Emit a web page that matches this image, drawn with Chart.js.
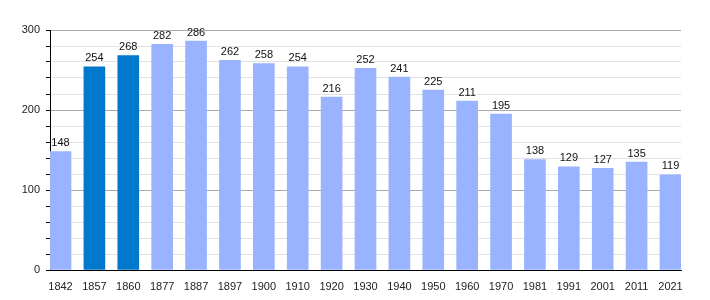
<!DOCTYPE html>
<html>
<head>
<meta charset="utf-8">
<script src="https://cdn.jsdelivr.net/npm/chart.js@4.4.1/dist/chart.umd.min.js"></script>
<style>
  html, body { margin: 0; padding: 0; background: #fff; }
  #wrap { width: 710px; height: 300px; }
</style>
</head>
<body>
<div id="wrap"><canvas id="chart"></canvas></div>
<script>
// census years and population
const years = ["1842", "1857", "1860", "1877", "1887", "1897", "1900", "1910", "1920", "1930",
  "1940", "1950", "1960", "1970", "1981", "1991", "2001", "2011", "2021"];
const population = [148, 254, 268, 282, 286, 262, 258, 254, 216, 252,
  241, 225, 211, 195, 138, 129, 127, 135, 119];
// years drawn in the darker colour
const highlighted = ["1857", "1860"];
const yTicks = [0, 100, 200, 300];
const yMinorStep = 20;

const lightBar = "#99b3ff";
const darkBar = "#0079cc";
const font = { family: "'Liberation Sans', Arial, sans-serif", size: 11 };

// draws the number above each bar
const valueLabels = {
  id: "valueLabels",
  afterDatasetsDraw: function (chart) {
    const ctx = chart.ctx;
    const meta = chart.getDatasetMeta(0);
    ctx.save();
    ctx.font = font.size + "px " + font.family;
    ctx.fillStyle = "#111";
    ctx.textAlign = "center";
    ctx.textBaseline = "bottom";
    meta.data.forEach(function (bar, i) {
      ctx.fillText(String(population[i]), bar.x, bar.y - 3);
    });
    ctx.restore();
  },
};

new Chart(document.getElementById("chart").getContext("2d"), {
  type: "bar",
  data: {
    datasets: [
      {
        data: population.map((v, i) => ({ x: i, y: v })),
        backgroundColor: years.map((y) => (highlighted.includes(y) ? darkBar : lightBar)),
        borderWidth: 0,
        barThickness: 21,
      },
    ],
  },
  options: {
    responsive: true,
    maintainAspectRatio: false,
    animation: false,
    layout: { padding: { top: 30, right: 29, left: 0, bottom: 0 } },
    plugins: {
      legend: { display: false },
      tooltip: { enabled: false },
    },
    scales: {
      x: {
        type: "linear",
        offset: false,
        // half a bar of room at both ends, so bars touch the plot edges
        min: -0.31,
        max: years.length - 1 + 0.31,
        grid: { display: false, offset: false },
        border: { display: true, color: "#000", width: 1 },
        afterBuildTicks: function (scale) {
          scale.ticks = years.map((_, i) => ({ value: i }));
        },
        afterFit: function (scale) {
          scale.height = 30;
        },
        ticks: {
          autoSkip: false,
          maxRotation: 0,
          padding: 2,
          color: "#222",
          font: font,
          callback: function (value) {
            return years[value];
          },
        },
      },
      y: {
        min: 0,
        max: 300,
        afterFit: function (scale) {
          scale.width = 50;
        },
        afterBuildTicks: function (scale) {
          const ticks = [];
          for (let v = 0; v <= 300; v += yMinorStep) ticks.push({ value: v });
          scale.ticks = ticks;
        },
        grid: {
          color: (c) => (yTicks.includes(c.tick.value) ? "#aaaaaa" : "#e2e2e2"),
          tickColor: "#000",
          tickLength: 4,
        },
        border: { display: true, color: "#000", width: 1 },
        ticks: {
          autoSkip: false,
          padding: 6,
          color: "#222",
          font: font,
          callback: function (value) {
            return yTicks.includes(value) ? value : "";
          },
        },
      },
    },
  },
  plugins: [valueLabels],
});
</script>
</body>
</html>
